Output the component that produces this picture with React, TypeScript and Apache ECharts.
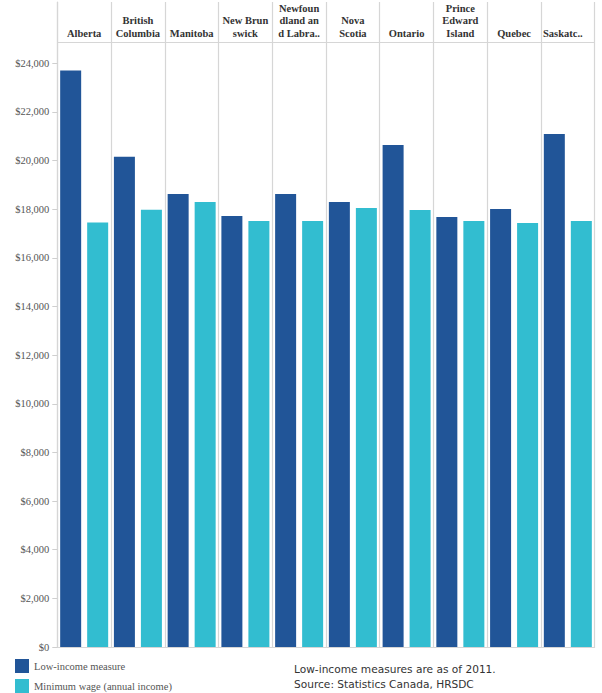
import React, { useEffect, useRef } from "react";
import * as echarts from "echarts";

const provinces = [
  "Alberta",
  "British Columbia",
  "Manitoba",
  "New Brunswick",
  "Newfoundland and Labrador",
  "Nova Scotia",
  "Ontario",
  "Prince Edward Island",
  "Quebec",
  "Saskatchewan",
];

const headerLabels = [
  "Alberta",
  "British\nColumbia",
  "Manitoba",
  "New Brun\nswick",
  "Newfoun\ndland an\nd Labra..",
  "Nova\nScotia",
  "Ontario",
  "Prince\nEdward\nIsland",
  "Quebec",
  "Saskatc..",
];

const lowIncomeMeasure = [23700, 20160, 18630, 17720, 18630, 18300, 20640, 17680, 18010, 21090];
const minimumWage = [17450, 17980, 18300, 17520, 17520, 18050, 17970, 17520, 17430, 17520];

const yTickValues = [0, 2000, 4000, 6000, 8000, 10000, 12000, 14000, 16000, 18000, 20000, 22000, 24000];

const seriesNames = ["Low-income measure", "Minimum wage (annual income)"];
const noteLines = ["Low-income measures are as of 2011.", "Source: Statistics Canada, HRSDC"];

const Y_MAX = 26520;
const HEADER_LINE = 24856;

export default function App() {
  const ref = useRef<HTMLDivElement>(null);

  useEffect(() => {
    if (!ref.current) return;
    const chart = echarts.init(ref.current, undefined, { renderer: "svg" });
    const grey = "#d6d6d6";
    const serif = "Liberation Serif";
    const headerFont = {
      fontFamily: serif,
      fontWeight: "bold",
      fontSize: 10.5,
      lineHeight: 12.7,
      color: "#333",
    };
    chart.setOption({
      animation: false,
      backgroundColor: "#ffffff",
      textStyle: { fontFamily: serif },
      color: ["#215598", "#32bdd0"],
      grid: { left: 57.3, right: 7.3, top: 2, bottom: 46, containLabel: false },
      legend: {
        orient: "vertical",
        left: 15,
        top: 659,
        height: 40,
        padding: 0,
        itemWidth: 14,
        itemHeight: 14,
        itemGap: 6,
        icon: "rect",
        selectedMode: false,
        data: seriesNames,
        textStyle: { fontFamily: serif, fontSize: 10.5, color: "#555" },
      },
      graphic: [
        {
          type: "text",
          left: 294,
          top: 661,
          style: {
            text: noteLines.join("\n"),
            fontFamily: "DejaVu Sans",
            fontSize: 10.6,
            lineHeight: 15,
            fill: "#333",
          },
        },
      ],
      xAxis: [
        {
          type: "category",
          data: provinces,
          position: "bottom",
          axisLine: { show: true, lineStyle: { color: grey, width: 1 } },
          axisTick: { show: false },
          axisLabel: { show: false },
          splitLine: { show: true, interval: 0, lineStyle: { color: grey, width: 1.2 } },
        },
        {
          type: "category",
          data: provinces,
          position: "top",
          axisLine: { show: false },
          axisTick: { show: false },
          splitLine: { show: false },
          axisLabel: {
            show: true,
            inside: true,
            interval: 0,
            margin: 38,
            verticalAlign: "bottom",
            formatter: (_v: string, i: number) =>
              i === headerLabels.length - 1 ? "{trunc|" + headerLabels[i] + "}" : headerLabels[i],
            ...headerFont,
            rich: {
              trunc: { ...headerFont, padding: [0, 10, 0, 0] },
            },
          },
        },
      ],
      yAxis: {
        type: "value",
        min: 0,
        max: Y_MAX,
        splitLine: { show: false },
        axisLine: { show: true, lineStyle: { color: grey, width: 1.2 } },
        axisTick: {
          show: true,
          length: 5,
          customValues: yTickValues,
          lineStyle: { color: "#cfcfcf" },
        },
        axisLabel: {
          customValues: yTickValues,
          margin: 8,
          fontFamily: serif,
          fontSize: 10.5,
          color: "#555",
          formatter: (v: number) => "$" + v.toLocaleString("en-US"),
        },
      },
      series: [
        {
          name: seriesNames[0],
          type: "bar",
          data: lowIncomeMeasure,
          barWidth: 21,
          barGap: "28.6%",
          markLine: {
            silent: true,
            symbol: "none",
            label: { show: false },
            lineStyle: { color: grey, width: 1, type: "solid" },
            data: [{ yAxis: HEADER_LINE }],
          },
        },
        {
          name: seriesNames[1],
          type: "bar",
          data: minimumWage,
          barWidth: 21,
          barGap: "28.6%",
        },
      ],
    });
    return () => chart.dispose();
  }, []);

  return (
    <div
      ref={ref}
      style={{ position: "absolute", left: 0, top: 0, width: 602, height: 693 }}
    />
  );
}
